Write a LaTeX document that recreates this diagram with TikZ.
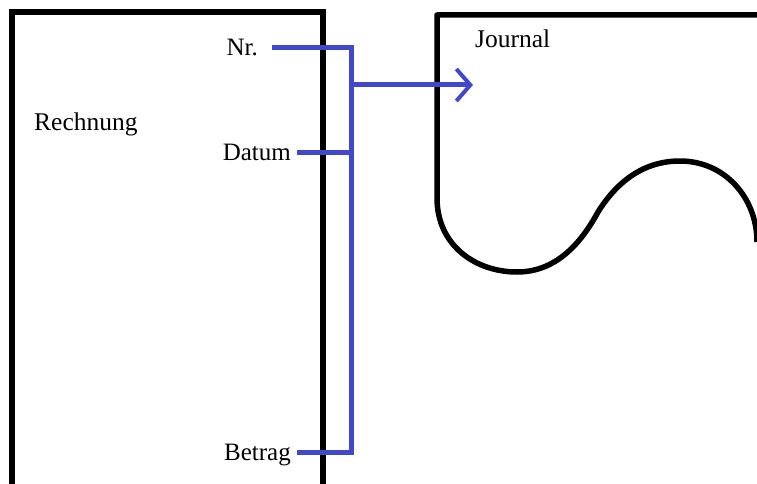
\documentclass[tikz,border=0pt]{standalone}
\usepackage{fontspec}
\setmainfont{Liberation Serif}
\usetikzlibrary{arrows.meta}
\definecolor{busblue}{RGB}{66,72,204}
\begin{document}
\begin{tikzpicture}[x=1pt,y=-1pt,
  frame/.style={line width=5.5pt,black},
  bus/.style={line width=5pt,busblue,line join=miter},
  lbl/.style={inner sep=0pt,text height=16pt,text depth=0pt,font=\fontsize{25}{29}\selectfont},
  ttl/.style={inner sep=0pt,anchor=base west,font=\fontsize{25.5}{29}\selectfont}]
\useasboundingbox (0,0) rectangle (757,484);
\clip (0,0) rectangle (757,484);
% Rechnung document
\draw[frame] (12,490) -- (12,12) -- (323,12) -- (323,490);
% Journal shape
\draw[frame,line join=round] (770,15) -- (437,15) -- (437,198)
  .. controls (437,245) and (475,272) .. (517,272)
  .. controls (555,272) and (580,245) .. (598,212)
  .. controls (618,180) and (645,161) .. (680,161)
  .. controls (725,161) and (757,198) .. (757,242);
% labels
\node[ttl] (rech) at (34,131) {Rechnung};
\node[ttl] (jour) at (475,48) {Journal};
\node[lbl,anchor=east] (nr) at (258,48) {Nr.};
\node[lbl,anchor=east] (datum) at (291,152) {Datum};
\node[lbl,anchor=east] (betrag) at (291,452) {Betrag};
% bus coordinates
\coordinate (bt) at (351,48);
\coordinate (bb) at (351,452);
\coordinate (jn) at (351,85);
\coordinate (tip) at (473,85);
% connectors
\draw[bus] ([xshift=14pt]nr.east) -- (bt) -- (bb) -- ([xshift=6pt]betrag.east);
\draw[bus] ([xshift=6pt]datum.east) -- (datum.east -| bt);
\draw[bus,-{Straight Barb[length=14pt,width=32pt,line width=4pt]}] (jn) -- (tip);
\end{tikzpicture}
\end{document}
